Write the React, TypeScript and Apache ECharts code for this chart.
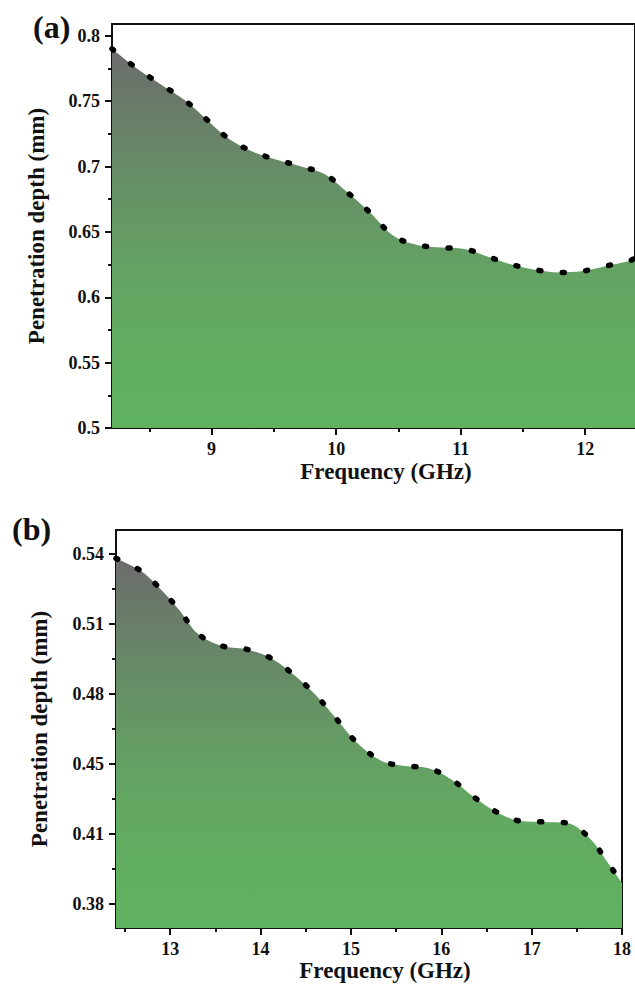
import React, { useEffect, useRef } from "react";
import * as echarts from "echarts";

// ---- Panel (a): 8.2–12.4 GHz ----
const freqA = [8.2, 8.4, 8.59, 8.78, 8.96, 9.14, 9.34, 9.53, 9.72, 9.91, 10.08, 10.27, 10.46, 10.65, 10.85, 11.03, 11.22, 11.41, 11.6, 11.79, 11.98, 12.17, 12.36, 12.4];
const depthA = [0.79, 0.775, 0.763, 0.751, 0.736, 0.721, 0.711, 0.705, 0.7, 0.694, 0.681, 0.665, 0.647, 0.64, 0.638, 0.637, 0.631, 0.625, 0.621, 0.619, 0.62, 0.624, 0.628, 0.63];
const xTicksA = [9, 10, 11, 12];
const xMinorA = [8.5, 9.5, 10.5, 11.5];
const yTicksA = [0.5, 0.55, 0.6, 0.65, 0.7, 0.75, 0.8];
const yMinorA = [0.525, 0.575, 0.625, 0.675, 0.725, 0.775];

// ---- Panel (b): 12.4–18 GHz ----
const freqB = [12.4, 12.66, 12.86, 13.09, 13.31, 13.57, 13.83, 14.09, 14.33, 14.6, 14.84, 15.07, 15.34, 15.59, 15.85, 16.12, 16.36, 16.61, 16.88, 17.14, 17.39, 17.65, 17.86, 18.0];
const depthB = [0.54, 0.5347, 0.5274, 0.5169, 0.5054, 0.5, 0.4986, 0.4949, 0.4881, 0.478, 0.4666, 0.4556, 0.4474, 0.4451, 0.4442, 0.4387, 0.4309, 0.4241, 0.4199, 0.4195, 0.419, 0.4117, 0.3998, 0.3916];
const xTicksB = [13, 14, 15, 16, 17, 18];
const xMinorB = [12.5, 13.5, 14.5, 15.5, 16.5, 17.5];
const yTicksB = [0.382, 0.414, 0.446, 0.478, 0.51, 0.542];
const yMinorB = [0.398, 0.43, 0.462, 0.494, 0.526];

const FONT = "'Liberation Serif', 'Times New Roman', serif";
const INK = "#111";

function areaGradient() {
  return new echarts.graphic.LinearGradient(0, 0, 0, 1, [
    { offset: 0, color: "#6c6c6c" },
    { offset: 0.35, color: "#668f66" },
    { offset: 0.65, color: "#63a763" },
    { offset: 1, color: "#5fb35f" },
  ]);
}

function xAxes(gridIndex: number, min: number, max: number, major: number[], minor: number[], nameGap: number, padLeft: number) {
  return [
    {
      type: "value",
      gridIndex,
      min,
      max,
      position: "bottom",
      axisLine: { show: true, onZero: false, lineStyle: { color: INK, width: 2 } },
      axisTick: { show: true, customValues: major, length: 7, lineStyle: { color: INK, width: 2 } },
      axisLabel: {
        show: true,
        customValues: major,
        margin: 12,
        color: INK,
        fontSize: 18,
        fontWeight: "bold",
        fontFamily: FONT,
        formatter: (v: number) => String(v),
      },
      splitLine: { show: false },
      name: "Frequency (GHz)",
      nameLocation: "middle",
      nameGap,
      nameTextStyle: { color: INK, fontSize: 23, fontWeight: "bold", fontFamily: FONT, padding: [0, 0, 0, padLeft] },
    },
    {
      type: "value",
      gridIndex,
      min,
      max,
      position: "bottom",
      axisLine: { show: false },
      axisTick: { show: true, customValues: minor, length: 4, lineStyle: { color: INK, width: 2 } },
      axisLabel: { show: false },
      splitLine: { show: false },
    },
  ];
}

function yAxes(gridIndex: number, min: number, max: number, major: number[], minor: number[], fmt: (v: number) => string, nameGap: number) {
  return [
    {
      type: "value",
      gridIndex,
      min,
      max,
      position: "left",
      axisLine: { show: true, onZero: false, lineStyle: { color: INK, width: 2 } },
      axisTick: { show: true, customValues: major, length: 7, lineStyle: { color: INK, width: 2 } },
      axisLabel: {
        show: true,
        customValues: major,
        margin: 12,
        color: INK,
        fontSize: 18,
        fontWeight: "bold",
        fontFamily: FONT,
        formatter: fmt,
      },
      splitLine: { show: false },
      name: "Penetration depth (mm)",
      nameLocation: "middle",
      nameRotate: 90,
      nameGap,
      nameTextStyle: { color: INK, fontSize: 23, fontWeight: "bold", fontFamily: FONT },
    },
    {
      type: "value",
      gridIndex,
      min,
      max,
      position: "left",
      axisLine: { show: false },
      axisTick: { show: true, customValues: minor, length: 4, lineStyle: { color: INK, width: 2 } },
      axisLabel: { show: false },
      splitLine: { show: false },
    },
  ];
}

function areaSeries(xIdx: number, yIdx: number, xs: number[], ys: number[]) {
  return {
    type: "line",
    xAxisIndex: xIdx,
    yAxisIndex: yIdx,
    data: xs.map((x, i) => [x, ys[i]]),
    smooth: 0.35,
    symbol: "none",
    lineStyle: { color: "#000", width: 5.5, type: [2, 21.5], cap: "round" },
    areaStyle: { color: areaGradient(), opacity: 1, origin: "start" },
    z: 3,
  };
}

export default function App() {
  const ref = useRef<HTMLDivElement>(null);

  useEffect(() => {
    if (!ref.current) return;
    const chart = echarts.init(ref.current, null, { renderer: "svg" });
    const option = {
      animation: false,
      backgroundColor: "#ffffff",
      grid: [
        { left: 112, top: 24, width: 525, height: 404, show: true, borderColor: INK, borderWidth: 2, backgroundColor: "transparent", containLabel: false },
        { left: 116, top: 530, width: 506, height: 398, show: true, borderColor: INK, borderWidth: 2, backgroundColor: "transparent", containLabel: false },
      ],
      xAxis: [
        ...xAxes(0, 8.2, 12.4, xTicksA, xMinorA, 32, 25),
        ...xAxes(1, 12.4, 18, xTicksB, xMinorB, 28, 32),
      ],
      yAxis: [
        ...yAxes(0, 0.5, 0.809, yTicksA, yMinorA, (v: number) => String(Number(v.toFixed(3))), 64),
        ...yAxes(1, 0.371, 0.553, yTicksB, yMinorB, (v: number) => v.toFixed(2), 65),
      ],
      series: [areaSeries(0, 0, freqA, depthA), areaSeries(2, 2, freqB, depthB)],
      graphic: [
        { type: "text", left: 33, top: 11, style: { text: "(a)", fill: INK, font: `bold 32px ${FONT}` } },
        { type: "text", left: 12, top: 513, style: { text: "(b)", fill: INK, font: `bold 32px ${FONT}` } },
      ],
    };
    chart.setOption(option as any);
    return () => chart.dispose();
  }, []);

  return <div ref={ref} style={{ position: "absolute", left: 0, top: 0, width: 635, height: 992 }} />;
}
